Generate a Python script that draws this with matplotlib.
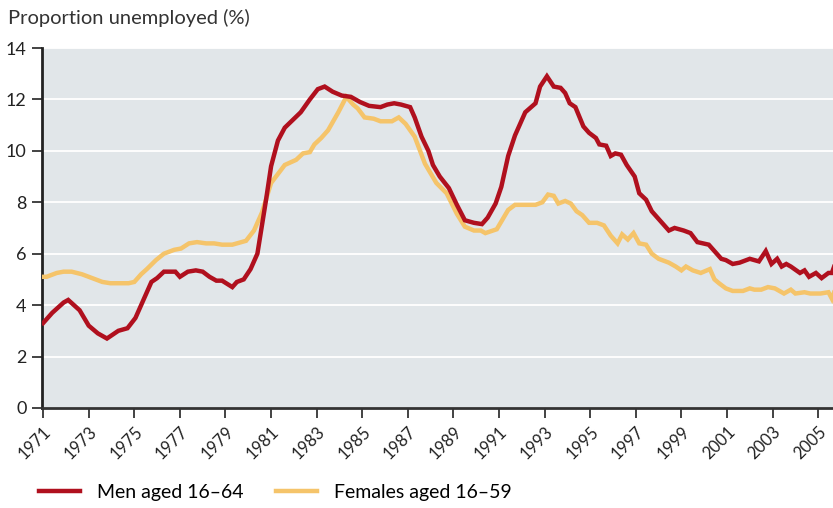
import numpy as np
import matplotlib.pyplot as plt

# --- data ---
men_years = [1971.0, 1971.4, 1971.9, 1972.1, 1972.6, 1973.0, 1973.4, 1973.8, 1974.3, 1974.7,
             1975.05, 1975.3, 1975.5, 1975.75, 1976.0, 1976.3, 1976.8, 1977.0, 1977.35, 1977.7,
             1978.0, 1978.3, 1978.6, 1978.85, 1979.3, 1979.5, 1979.8, 1980.1, 1980.4, 1980.78,
             1981.0, 1981.3, 1981.6, 1981.95, 1982.3, 1982.7, 1983.05, 1983.35, 1983.7, 1984.1,
             1984.5, 1984.9, 1985.3, 1985.8, 1986.1, 1986.4, 1986.7, 1987.1, 1987.3, 1987.6,
             1987.9, 1988.1, 1988.4, 1988.8, 1989.15, 1989.5, 1989.9, 1990.25, 1990.5, 1990.85,
             1991.1, 1991.4, 1991.7, 1992.15, 1992.6, 1992.8, 1993.1, 1993.4, 1993.7, 1993.9,
             1994.1, 1994.35, 1994.7, 1994.95, 1995.25, 1995.4, 1995.7, 1995.9, 1996.1, 1996.35,
             1996.6, 1996.95, 1997.15, 1997.45, 1997.7, 1998.1, 1998.45, 1998.7, 1999.1, 1999.4,
             1999.7, 2000.2, 2000.45, 2000.75, 2000.95, 2001.25, 2001.55, 2002.0, 2002.4, 2002.7,
             2002.95, 2003.2, 2003.4, 2003.6, 2003.8, 2004.2, 2004.4, 2004.6, 2004.9, 2005.15,
             2005.45, 2005.6, 2005.7]
men = [3.3, 3.7, 4.1, 4.2, 3.8, 3.2, 2.9, 2.7, 3.0, 3.1,
       3.5, 4.0, 4.4, 4.9, 5.05, 5.3, 5.3, 5.1, 5.3, 5.35,
       5.3, 5.1, 4.95, 4.95, 4.7, 4.9, 5.0, 5.4, 6.0, 8.1,
       9.4, 10.4, 10.9, 11.2, 11.5, 12.0, 12.4, 12.5, 12.3, 12.15,
       12.1, 11.9, 11.75, 11.7, 11.8, 11.85, 11.8, 11.7, 11.3, 10.55,
       10.0, 9.45, 9.0, 8.55, 7.9, 7.3, 7.2, 7.15, 7.4, 7.95,
       8.6, 9.8, 10.6, 11.5, 11.85, 12.5, 12.9, 12.5, 12.45, 12.25,
       11.85, 11.7, 10.95, 10.7, 10.5, 10.25, 10.2, 9.8, 9.9, 9.85,
       9.45, 9.0, 8.35, 8.1, 7.65, 7.25, 6.9, 7.0, 6.9, 6.8,
       6.45, 6.35, 6.1, 5.8, 5.75, 5.6, 5.65, 5.8, 5.7, 6.1,
       5.6, 5.8, 5.5, 5.6, 5.5, 5.25, 5.35, 5.1, 5.25, 5.05,
       5.25, 5.25, 5.5]

women_years = [1971.0, 1971.15, 1971.6, 1971.9, 1972.25, 1972.7, 1973.15, 1973.6, 1973.95, 1974.75,
               1975.0, 1975.3, 1975.55, 1975.95, 1976.3, 1976.75, 1977.05, 1977.4, 1977.75, 1978.15,
               1978.5, 1978.85, 1979.3, 1979.9, 1980.25, 1980.6, 1981.0, 1981.6, 1982.1, 1982.4,
               1982.7, 1982.9, 1983.2, 1983.5, 1983.95, 1984.3, 1984.6, 1984.8, 1985.1, 1985.5,
               1985.8, 1986.3, 1986.6, 1986.9, 1987.3, 1987.75, 1988.25, 1988.7, 1989.15, 1989.5,
               1989.9, 1990.2, 1990.4, 1990.9, 1991.4, 1991.7, 1992.6, 1992.9, 1993.15, 1993.4,
               1993.6, 1993.9, 1994.15, 1994.4, 1994.65, 1994.95, 1995.3, 1995.6, 1995.9, 1996.2,
               1996.4, 1996.65, 1996.9, 1997.15, 1997.45, 1997.7, 1998.0, 1998.45, 1998.75, 1999.0,
               1999.2, 1999.5, 1999.85, 2000.25, 2000.45, 2000.65, 2000.95, 2001.25, 2001.7, 2002.0,
               2002.2, 2002.5, 2002.8, 2003.1, 2003.5, 2003.8, 2004.0, 2004.4, 2004.65, 2005.1,
               2005.45, 2005.6, 2005.7]
women = [5.1, 5.1, 5.25, 5.3, 5.3, 5.2, 5.05, 4.9, 4.85, 4.85,
         4.9, 5.2, 5.4, 5.75, 6.0, 6.15, 6.2, 6.4, 6.45, 6.4,
         6.4, 6.35, 6.35, 6.5, 6.9, 7.6, 8.75, 9.45, 9.65, 9.9,
         9.95, 10.25, 10.5, 10.8, 11.5, 12.1, 11.8, 11.65, 11.3, 11.25,
         11.15, 11.15, 11.3, 11.05, 10.55, 9.5, 8.75, 8.35, 7.55, 7.05,
         6.9, 6.9, 6.8, 6.95, 7.7, 7.9, 7.9, 8.0, 8.3, 8.25,
         7.95, 8.05, 7.95, 7.65, 7.5, 7.2, 7.2, 7.1, 6.7, 6.4,
         6.75, 6.55, 6.8, 6.4, 6.35, 6.0, 5.8, 5.65, 5.5, 5.35,
         5.5, 5.35, 5.25, 5.4, 5.0, 4.85, 4.65, 4.55, 4.55, 4.65,
         4.6, 4.6, 4.7, 4.65, 4.45, 4.6, 4.45, 4.5, 4.45, 4.45,
         4.5, 4.25, 4.5]

tick_years = list(range(1971, 2006, 2))
y_ticks = [0, 2, 4, 6, 8, 10, 12, 14]

# --- plot ---
plt.rcParams['font.family'] = ['Lato', 'DejaVu Sans']
fig = plt.figure(figsize=(8.33, 5.08), dpi=100)
ax = fig.add_axes([0.0504, 0.197, 0.9496, 0.7085])
ax.set_facecolor('#e1e6e9')

ax.plot(women_years, women, color='#f5c46a', lw=3.2, solid_joinstyle='miter', label='Females aged 16–59', zorder=3)
ax.plot(men_years, men, color='#b0101e', lw=3.2, solid_joinstyle='miter', label='Men aged 16–64', zorder=4)

ax.set_xlim(1970.95, 2005.65)
ax.set_ylim(0, 14)
ax.set_yticks(y_ticks)
ax.set_xticks(tick_years)
ax.set_xticklabels([str(y) for y in tick_years], rotation=45, ha='right', rotation_mode='anchor')
ax.yaxis.grid(True, color='white', lw=1.3)
ax.set_axisbelow(True)

for s in ['top', 'right']:
    ax.spines[s].set_visible(False)
ax.spines['left'].set_linewidth(2)
ax.spines['left'].set_color('#222222')
ax.spines['bottom'].set_linewidth(2)
ax.spines['bottom'].set_color('#333333')
ax.tick_params(axis='y', length=7, width=1.2, labelsize=13, colors='#222222', pad=4)
ax.tick_params(axis='x', length=7, width=1.2, labelsize=12, colors='#222222', pad=4)

fig.text(0.01, 0.965, 'Proportion unemployed (%)', fontsize=14.5, color='#333333', va='center')

handles, labels = ax.get_legend_handles_labels()
fig.legend(handles[::-1], labels[::-1], loc='center left', bbox_to_anchor=(0.026, 0.03), ncol=2,
           frameon=False, fontsize=14, handlelength=2.1, handletextpad=0.9, columnspacing=1.65)

plt.savefig('out.png', dpi=100)
